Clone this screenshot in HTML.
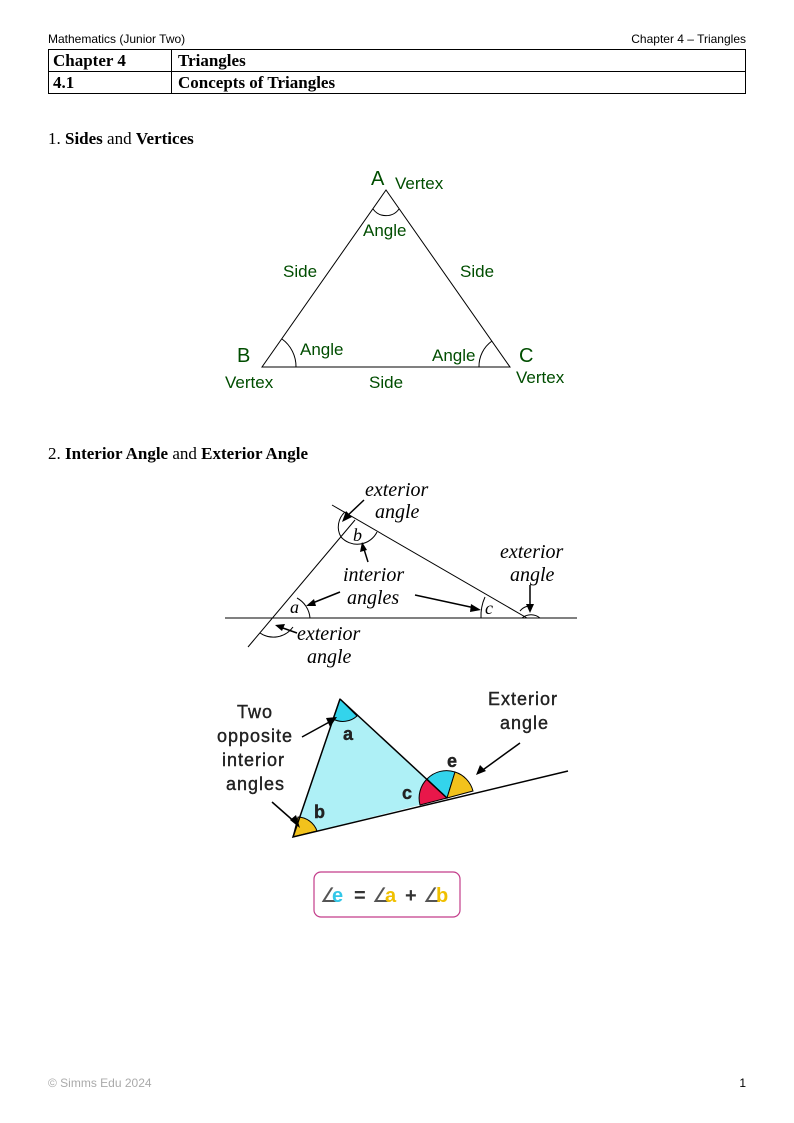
<!DOCTYPE html>
<html><head><style>
body{margin:0;background:#fff;}
.pg{position:relative;width:794px;height:1123px;overflow:hidden;font-family:"Liberation Serif",serif;}
.t{position:absolute;white-space:nowrap;}
</style></head><body><div class="pg">
<div class="t" style="left:48px;top:32px;font:12px 'Liberation Sans',sans-serif;">Mathematics (Junior Two)</div>
<div class="t" style="right:48px;top:32px;font:12px 'Liberation Sans',sans-serif;">Chapter 4 – Triangles</div>
<table style="position:absolute;left:48px;top:49px;width:698px;border-collapse:collapse;font:bold 17px 'Liberation Serif',serif;">
<tr><td style="border:1px solid #000;width:114px;padding:0 4px;height:21px;">Chapter 4</td><td style="border:1px solid #000;padding:0 6px;">Triangles</td></tr>
<tr><td style="border:1px solid #000;padding:0 4px;height:21px;">4.1</td><td style="border:1px solid #000;padding:0 6px;">Concepts of Triangles</td></tr>
</table>
<div class="t" style="left:48px;top:129px;font-size:17px;">1. <b>Sides</b> and <b>Vertices</b></div>
<div class="t" style="left:48px;top:444px;font-size:17px;">2. <b>Interior Angle</b> and <b>Exterior Angle</b></div>
<svg width="794" height="1123" style="position:absolute;left:0;top:0" font-family="Liberation Sans, sans-serif">
<g stroke="#000" fill="none" stroke-width="1">
<polygon points="386,190 262,367 510,367"/>
<path d="M373,209 A16,16 0 0 0 399,209"/>
<path d="M282,339 A34,34 0 0 1 296,367"/>
<path d="M479,367 A31,31 0 0 1 492,341"/>
</g>
<g fill="#004d00" font-size="17">
<text x="371" y="185" font-size="20">A</text><text x="395" y="189">Vertex</text>
<text x="363" y="236">Angle</text>
<text x="283" y="277">Side</text><text x="460" y="277">Side</text>
<text x="237" y="362" font-size="20">B</text><text x="300" y="355">Angle</text>
<text x="432" y="361">Angle</text><text x="519" y="362" font-size="20">C</text>
<text x="225" y="388">Vertex</text><text x="369" y="388">Side</text><text x="516" y="383">Vertex</text>
</g>
<g stroke="#000" fill="none" stroke-width="1">
<line x1="225" y1="618" x2="577" y2="618"/>
<line x1="248" y1="647" x2="355" y2="520"/>
<line x1="332" y1="505" x2="527" y2="618"/>
<path d="M341,537 A22,22 0 0 0 377,532"/>
<path d="M345,512 A20,20 0 0 0 341,537"/>
<path d="M297,598 A25,25 0 0 1 310,618"/>
<path d="M481,618 A46,46 0 0 1 485,597"/>
<path d="M522,618 A14,14 0 0 1 540,618 M520,611 A14,14 0 0 1 533,606"/>
<path d="M260,633 A24,24 0 0 0 293,627"/>
</g>
<g fill="#000" font-family="Liberation Serif, serif" font-style="italic" font-size="20">
<text x="365" y="496">exterior</text><text x="375" y="518">angle</text>
<text x="353" y="541" font-size="18">b</text>
<text x="343" y="581">interior</text><text x="347" y="604">angles</text>
<text x="500" y="558">exterior</text><text x="510" y="581">angle</text>
<text x="290" y="613" font-size="18">a</text><text x="485" y="614" font-size="18">c</text>
<text x="297" y="640">exterior</text><text x="307" y="663">angle</text>
</g>
<g stroke="#000" stroke-width="1.5">
<line x1="364" y1="500" x2="345" y2="518"/><line x1="368" y1="562" x2="363" y2="546"/>
<line x1="340" y1="592" x2="310" y2="604"/><line x1="415" y1="595" x2="475" y2="608"/>
<line x1="530" y1="585" x2="530" y2="608"/><line x1="297" y1="633" x2="280" y2="627"/>
</g>
<g fill="#000">
<polygon points="342,522 346,511 352,517"/><polygon points="362,542 360,552 367,550"/>
<polygon points="306,606 314,599 316,606"/><polygon points="481,610 471,604 470,612"/>
<polygon points="530,613 526,604 534,604"/><polygon points="275,625 285,624 282,631"/>
</g>
<polygon points="340,699 293,837 447,798" fill="#aef0f6" stroke="none"/>
<path d="M333,719 A21,21 0 0 0 357,716 L340,699Z" fill="#33d4ec" stroke="#000"/>
<path d="M293,837 L298,817 A21,21 0 0 1 317,831Z" fill="#f2c21c" stroke="#000"/>
<path d="M447,798 L420,805 A27,27 0 0 1 427,779Z" fill="#e8174a" stroke="#000"/>
<path d="M447,798 L427,779 A27,27 0 0 1 455,772Z" fill="#33d4ec" stroke="#000"/>
<path d="M447,798 L455,772 A27,27 0 0 1 473,791Z" fill="#f2c21c" stroke="#000"/>
<g stroke="#000" stroke-width="1.5" fill="none">
<polyline points="340,699 293,837 568,771"/><line x1="340" y1="699" x2="447" y2="798"/>
<line x1="302" y1="737" x2="333" y2="720"/><line x1="272" y1="802" x2="297" y2="824"/>
<line x1="520" y1="743" x2="480" y2="772"/>
</g>
<g fill="#000"><polygon points="337,717 326,718 330,727"/><polygon points="300,828 290,820 296,815"/><polygon points="476,775 480,765 486,771"/></g>
<g fill="#222" font-size="18" letter-spacing="1" stroke="#222" stroke-width="0.4">
<text x="237" y="718">Two</text><text x="217" y="742">opposite</text><text x="222" y="766">interior</text><text x="226" y="790">angles</text>
<text x="488" y="705">Exterior</text><text x="500" y="729">angle</text>
<text x="343" y="740" font-weight="bold">a</text><text x="314" y="818" font-weight="bold">b</text>
<text x="402" y="799" font-weight="bold">c</text><text x="447" y="767" font-weight="bold">e</text>
</g>
<rect x="314" y="872" width="146" height="45" rx="7" fill="#fff" stroke="#c33c8a" stroke-width="1.2"/>
<g font-size="20" font-weight="bold"><text x="320" y="902" fill="#555" font-weight="normal">∠</text><text x="332" y="902" fill="#33c7e8">e</text>
<text x="354" y="902" fill="#333">=</text><text x="372" y="902" fill="#555" font-weight="normal">∠</text><text x="385" y="902" fill="#f0c000">a</text>
<text x="405" y="902" fill="#333">+</text><text x="423" y="902" fill="#555" font-weight="normal">∠</text><text x="436" y="902" fill="#f0c000">b</text></g>
</svg>
<div class="t" style="left:48px;top:1076px;font:12px 'Liberation Sans',sans-serif;color:#aaa;">© Simms Edu 2024</div>
<div class="t" style="right:48px;top:1076px;font:12px 'Liberation Sans',sans-serif;">1</div>
</div></body></html>
